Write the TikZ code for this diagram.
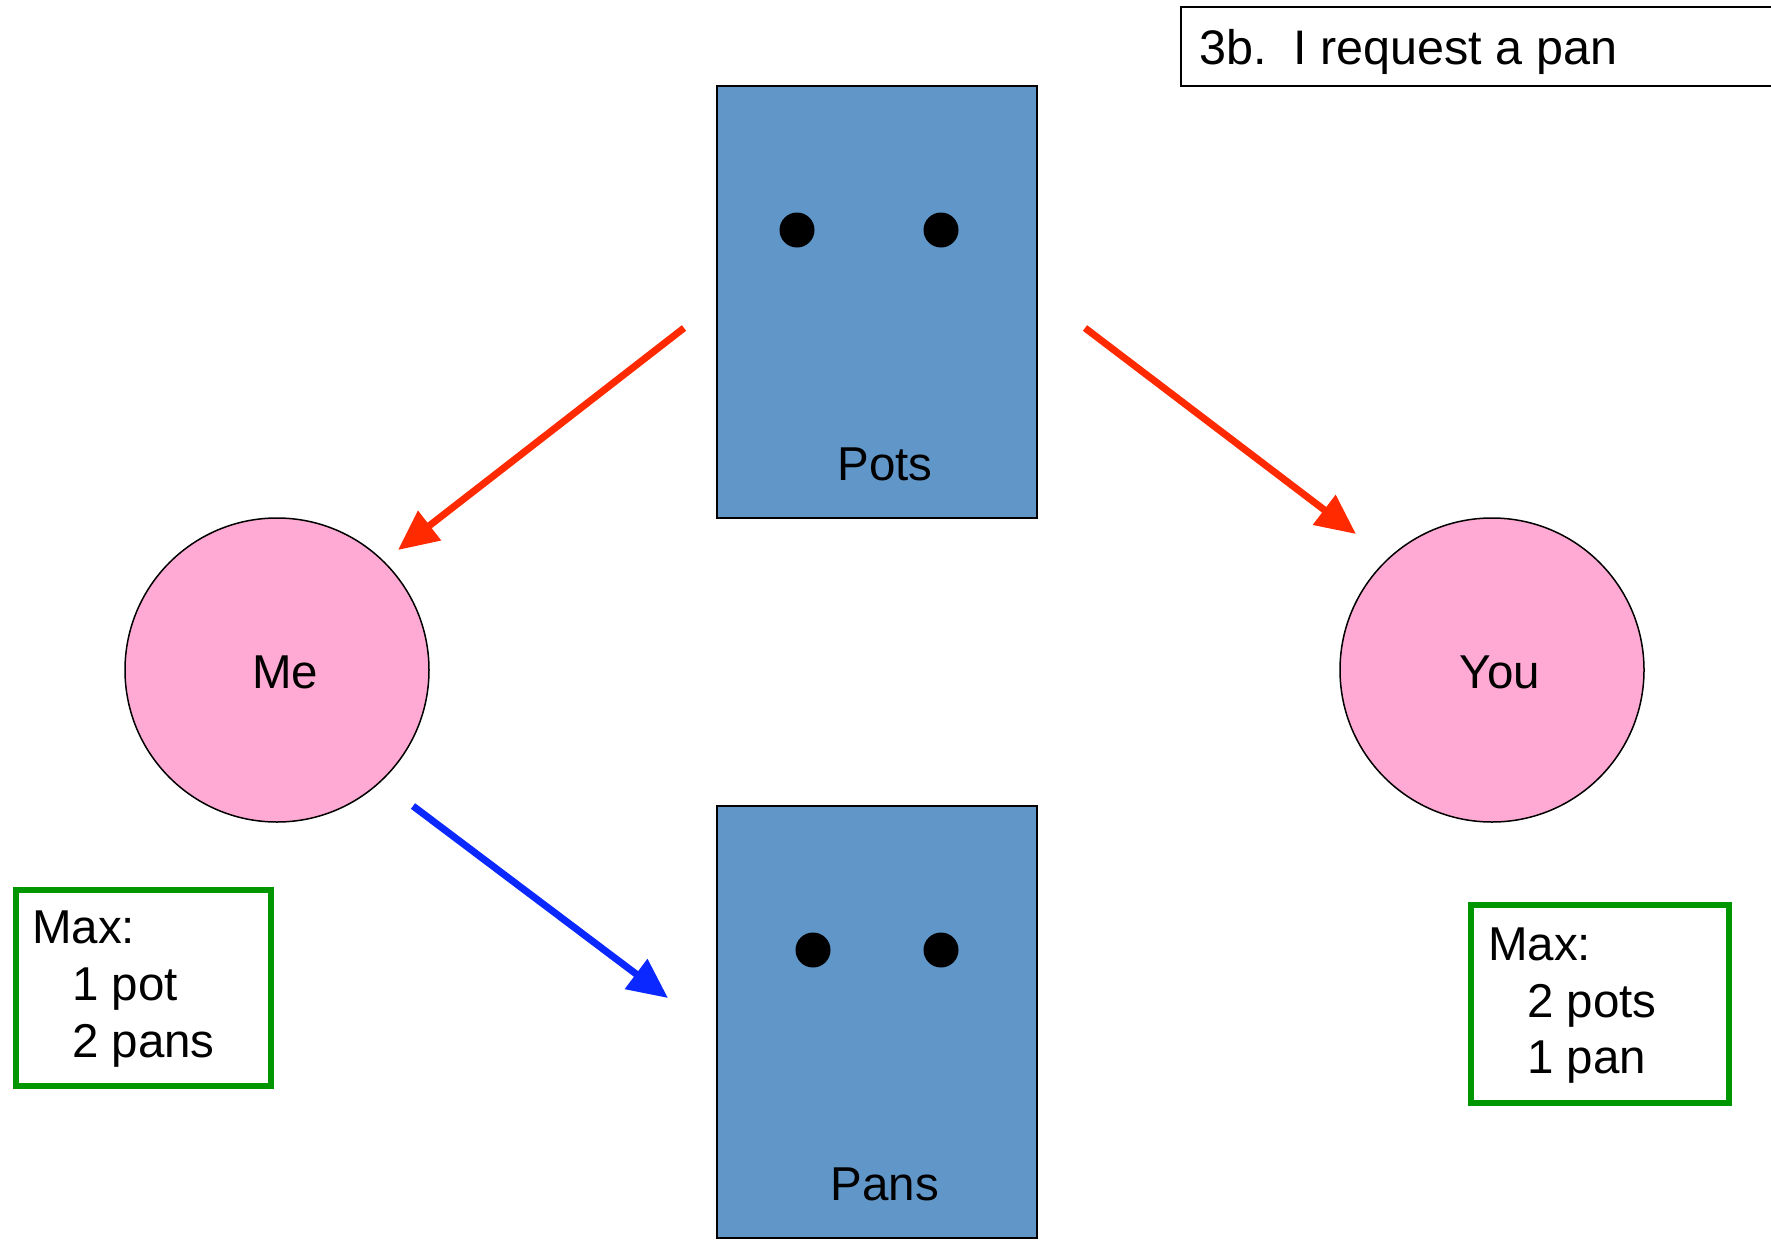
\documentclass[tikz,border=0pt]{standalone}
\usepackage{fontspec}
\setmainfont{Liberation Sans}
\usetikzlibrary{arrows.meta}
\definecolor{boxblue}{RGB}{96,150,200}
\definecolor{pinkc}{RGB}{255,170,212}
\definecolor{arrred}{RGB}{255,42,0}
\definecolor{arrblue}{RGB}{10,40,255}
\definecolor{grn}{RGB}{0,150,0}
\tikzset{
  bin/.style={draw=black, line width=2pt, fill=boxblue, minimum width=320pt, minimum height=432pt, inner sep=0pt},
  person/.style={circle, draw=black, line width=1.5pt, fill=pinkc, minimum size=304pt, inner sep=0pt},
  dot/.style={circle, fill=black, minimum size=35pt, inner sep=0pt},
  lbl/.style={inner sep=0pt, font=\fontsize{47.5}{55}\selectfont},
  maxbox/.style={draw=grn, line width=5.5pt, inner sep=0pt},
  conn/.style={line width=7pt, -{Triangle[length=40pt,width=36pt]}},
}
\begin{document}
\begin{tikzpicture}[x=1pt,y=-1pt]
\useasboundingbox (0,0) rectangle (1771,1239);
% title
\node[draw=black, line width=2pt, inner sep=0pt, minimum width=620pt, minimum height=79pt, anchor=north west] (title) at (1180,6) {};
\node[inner sep=0pt, anchor=base west, font=\fontsize{48.5}{60}\selectfont] (titletext) at (1199,65) {3b.\ \ I request a pan};
% bins
\node[bin] (pots) at (876.5,302) {};
\node[bin] (pans) at (876.5,1022) {};
\node[dot] (pd1) at (797,230) {};
\node[dot] (pd2) at (941,230) {};
\node[dot] (nd1) at (813,950) {};
\node[dot] (nd2) at (941,950) {};
\node[lbl, anchor=base] (potslbl) at (885,480) {Pots};
\node[lbl, anchor=base] (panslbl) at (885,1200) {Pans};
% persons
\node[person] (me) at (277,670) {};
\node[person] (you) at (1492,670) {};
\node[lbl, anchor=base] (melbl) at (285,688) {Me};
\node[lbl, anchor=base] (youlbl) at (1500,688) {You};
% arrows
\coordinate (a1s) at (684,328);
\coordinate (a1e) at (398,550);
\coordinate (a2s) at (1085,328);
\coordinate (a2e) at (1356,534);
\coordinate (a3s) at (413,806);
\coordinate (a3e) at (668,998);
\draw[conn, draw=arrred, fill=arrred] (a1s) -- (a1e);
\draw[conn, draw=arrred, fill=arrred] (a2s) -- (a2e);
\draw[conn, draw=arrblue, fill=arrblue] (a3s) -- (a3e);
% max boxes
\node[maxbox, minimum width=255pt, minimum height=196pt, anchor=north west] (maxme) at (13,887) {};
\node[lbl, anchor=base west] (maxme1) at (32,943) {Max:};
\node[lbl, anchor=base west] (maxme2) at (72,1000) {1 pot};
\node[lbl, anchor=base west] (maxme3) at (72,1057) {2 pans};
\node[maxbox, minimum width=258pt, minimum height=198pt, anchor=north west] (maxyou) at (1468,902) {};
\node[lbl, anchor=base west] (maxyou1) at (1488,960) {Max:};
\node[lbl, anchor=base west] (maxyou2) at (1527,1017) {2 pots};
\node[lbl, anchor=base west] (maxyou3) at (1527,1073) {1 pan};
\end{tikzpicture}
\end{document}
